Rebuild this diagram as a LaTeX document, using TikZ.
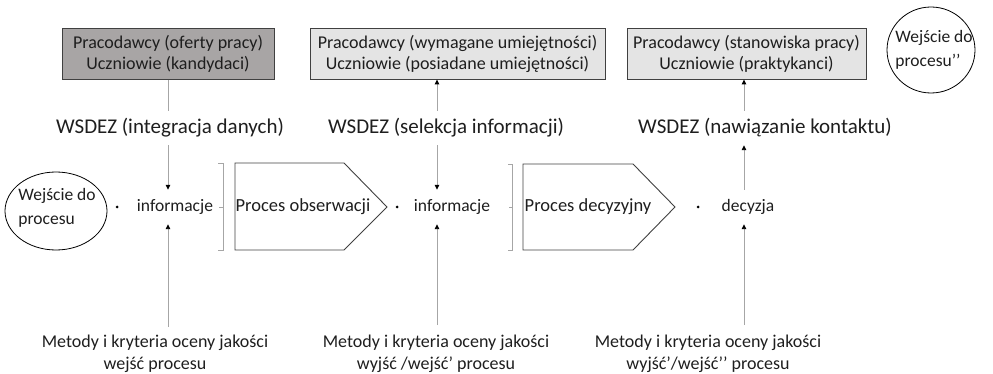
\documentclass[tikz,border=0pt]{standalone}
\usepackage{fontspec}
\setmainfont{Carlito}
\usetikzlibrary{arrows.meta}
\definecolor{lgray}{HTML}{A6A6A6}
\definecolor{bdark}{HTML}{404040}
\definecolor{txt}{HTML}{1E1E1E}
\definecolor{fdark}{HTML}{A8A5A5}
\definecolor{flight}{HTML}{E4E4E4}
\tikzset{
  topbox/.style={draw=bdark, line width=0.9pt, minimum height=51pt, align=center, inner sep=0pt, text=txt, font=\fontsize{18}{21}\selectfont},
  wsdez/.style={minimum height=34pt, inner sep=0pt, text=txt, font=\fontsize{21}{24}\selectfont},
  info/.style={minimum height=34pt, inner sep=0pt, text=txt, font=\fontsize{17.5}{20}\selectfont},
  proc/.style={inner sep=0pt, text=txt, font=\fontsize{18.5}{20}\selectfont},
  bottomtxt/.style={align=center, inner sep=0pt, text=txt, font=\fontsize{18}{22}\selectfont},
  circtxt/.style={align=left, inner sep=0pt, text=txt, font=\fontsize{17.5}{24}\selectfont},
  conn/.style={draw=lgray, line width=0.9pt},
  arr/.style={conn, -{Triangle[length=5pt,width=4.5pt,color=black]}},
  brk/.style={draw=lgray, line width=0.9pt},
  pent/.style={draw=bdark, line width=0.9pt},
  pdot/.style={circle, fill=black, inner sep=0pt, minimum size=3pt},
}
\begin{document}
\begin{tikzpicture}[x=1pt,y=-1pt]
\useasboundingbox (0,0) rectangle (993,374);
% top boxes
\node[topbox, fill=fdark, minimum width=212pt] (box1) at (168,54) {Pracodawcy (oferty pracy)\\Uczniowie (kandydaci)};
\node[topbox, fill=flight, minimum width=295pt] (box2) at (457.5,53.5) {Pracodawcy (wymagane umiejętności)\\Uczniowie (posiadane umiejętności)};
\node[topbox, fill=flight, minimum width=239pt] (box3) at (746.5,53.5) {Pracodawcy (stanowiska pracy)\\Uczniowie (praktykanci)};
% WSDEZ
\node[wsdez] (w1) at (170,128) {WSDEZ (integracja danych)};
\node[wsdez] (w2) at (446,128) {WSDEZ (selekcja informacji)};
\node[wsdez] (w3) at (765,128) {WSDEZ (nawiązanie kontaktu)};
% middle
\node[info] (i1) at (175,207) {informacje};
\node[info] (i2) at (452,207) {informacje};
\node[info] (i3) at (748,207) {decyzja};
% circles
\draw[line width=0.8pt] (56,211) ellipse [x radius=51, y radius=39];
\node[circtxt] (c1) at (57,208) {Wejście do\\procesu};
\draw[line width=0.8pt] (931,50) ellipse [x radius=44, y radius=43];
\node[circtxt] (c2) at (934,50) {Wejście do\\procesu’’};
% dots
\node[pdot] (d1) at (117,207) {};
\node[pdot] (d2) at (397,207) {};
\node[pdot] (d3) at (698,207) {};
% brackets
\draw[brk] (218,163) -- (223,163) -- (223,250) -- (218,250);
\draw[brk] (219,207) -- (223,207);
\draw[brk] (508,164) -- (512,164) -- (512,250) -- (508,250);
\draw[brk] (509,207) -- (512,207);
% pentagons
\draw[pent] (235,163) -- (344,163) -- (387,207) -- (344,250) -- (235,250) -- cycle;
\node[proc] (p1) at (303,207) {Proces obserwacji};
\draw[pent] (523,164) -- (633,164) -- (675,207) -- (633,250) -- (523,250) -- cycle;
\node[proc] (p2) at (588,207) {Proces decyzyjny};
% bottom texts
\node[bottomtxt] (m1) at (155,354) {Metody i kryteria oceny jakości\\wejść procesu};
\node[bottomtxt] (m2) at (436,354) {Metody i kryteria oceny jakości\\wyjść /wejść’ procesu};
\node[bottomtxt] (m3) at (708,354) {Metody i kryteria oceny jakości\\wyjść’/wejść’’ procesu};
\coordinate (b1) at (168,327);
\coordinate (b2) at (437,325);
\coordinate (b3) at (744,325);
% connectors
\draw[conn] (box1.south -| b1) -- (w1.north -| b1);
\draw[arr] (w1.south -| b1) -- (i1.north -| b1);
\draw[arr] (b1) -- (i1.south -| b1);
\draw[arr] (w2.north -| b2) -- (box2.south -| b2);
\draw[arr] (w2.south -| b2) -- (i2.north -| b2);
\draw[arr] (b2) -- (i2.south -| b2);
\draw[arr] (i3.north -| b3) -- (w3.south -| b3);
\draw[arr] (w3.north -| b3) -- (box3.south -| b3);
\draw[arr] (b3) -- (i3.south -| b3);
\end{tikzpicture}
\end{document}
